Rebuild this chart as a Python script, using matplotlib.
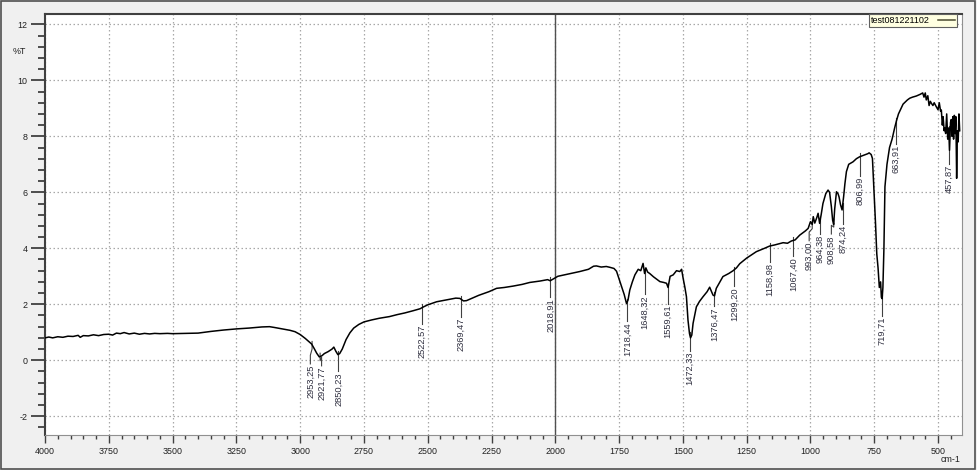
import numpy as np
import matplotlib
matplotlib.use('Agg')
import matplotlib.pyplot as plt
from matplotlib.patches import Rectangle

plt.rcParams['font.family'] = ['Liberation Sans', 'DejaVu Sans']
plt.rcParams['axes.unicode_minus'] = False

# spectrum (wavenumber cm-1, %T)
wavenumber = [4000, 3985, 3970, 3950, 3930, 3910, 3890, 3870, 3862, 3850, 3830, 3810, 3790, 3770,
              3750, 3735, 3720, 3705, 3690, 3670, 3650, 3630, 3610, 3590, 3570, 3550, 3520, 3500,
              3450, 3400, 3350, 3300, 3250, 3200, 3150, 3120, 3100, 3070, 3040, 3020, 3000, 2980,
              2965, 2955, 2945, 2935, 2925, 2915, 2905, 2890, 2875, 2868, 2860, 2852, 2845, 2835,
              2820, 2805, 2790, 2770, 2750, 2720, 2690, 2650, 2620, 2590, 2557, 2530, 2518, 2500,
              2465, 2420, 2390, 2374, 2360, 2348, 2330, 2300, 2260, 2230, 2200, 2165, 2130, 2100,
              2060, 2030, 2020, 2005, 1990, 1950, 1904, 1870, 1850, 1839, 1820, 1800, 1786, 1770,
              1760, 1750, 1740, 1730, 1721, 1715, 1708, 1698, 1688, 1675, 1665, 1656, 1650, 1645,
              1638, 1630, 1615, 1600, 1590, 1575, 1564, 1558, 1550, 1538, 1525, 1512, 1505, 1499,
              1492, 1486, 1480, 1474, 1470, 1465, 1460, 1447, 1435, 1421, 1405, 1395, 1382, 1376,
              1369, 1355, 1343, 1320, 1303, 1290, 1277, 1250, 1212, 1180, 1160, 1140, 1107, 1090,
              1075, 1060, 1042, 1020, 1009, 1000, 993, 989, 983, 975, 970, 964, 958, 951,
              940, 931, 925, 918, 913, 909, 905, 898, 892, 888, 882, 876, 870, 865,
              859, 850, 833, 820, 807, 790, 775, 770, 762, 757, 751, 745, 740, 735,
              730, 725, 722, 719, 716, 712, 708, 700, 690, 680, 670, 663, 655, 637,
              620, 611, 600, 585, 570, 560, 555, 550, 546, 540, 535, 530, 526, 520,
              515, 507, 500, 495, 490, 487, 483, 480, 476, 474, 470, 466, 462, 458,
              455, 451, 448, 445, 442, 439, 436, 433, 430, 427, 424, 421, 418, 415]
transmittance = [0.80, 0.83, 0.80, 0.84, 0.82, 0.86, 0.85, 0.89, 0.82, 0.88, 0.87, 0.91, 0.88, 0.92,
                 0.93, 0.90, 0.97, 0.95, 0.99, 0.94, 0.97, 0.93, 0.96, 0.94, 0.96, 0.95, 0.96, 0.95,
                 0.96, 0.97, 1.03, 1.08, 1.12, 1.15, 1.19, 1.20, 1.17, 1.12, 1.07, 1.02, 0.92, 0.78,
                 0.66, 0.58, 0.42, 0.25, 0.12, 0.16, 0.24, 0.31, 0.40, 0.47, 0.32, 0.20, 0.24, 0.40,
                 0.74, 0.98, 1.15, 1.28, 1.37, 1.44, 1.50, 1.56, 1.63, 1.69, 1.77, 1.84, 1.90, 1.98,
                 2.09, 2.17, 2.22, 2.21, 2.12, 2.13, 2.20, 2.32, 2.45, 2.57, 2.60, 2.65, 2.71, 2.78,
                 2.83, 2.88, 2.84, 2.92, 3.00, 3.08, 3.17, 3.25, 3.36, 3.37, 3.33, 3.35, 3.32, 3.28,
                 3.18, 2.90, 2.62, 2.35, 2.03, 2.15, 2.51, 2.80, 3.05, 3.25, 3.20, 3.46, 3.10, 3.30,
                 3.15, 3.10, 2.98, 2.88, 2.81, 2.78, 2.75, 2.60, 3.00, 3.05, 3.20, 3.17, 3.25, 2.93,
                 2.60, 2.27, 1.44, 0.95, 0.80, 0.90, 1.32, 1.91, 2.10, 2.27, 2.45, 2.61, 2.33, 2.30,
                 2.57, 2.80, 2.99, 3.10, 3.20, 3.30, 3.45, 3.65, 3.88, 4.00, 4.08, 4.12, 4.20, 4.18,
                 4.26, 4.30, 4.47, 4.62, 4.71, 4.95, 4.85, 5.13, 4.90, 5.10, 5.25, 4.89, 5.20, 5.60,
                 5.95, 6.08, 6.00, 5.49, 5.00, 4.85, 5.40, 6.02, 5.95, 5.84, 5.55, 5.37, 5.84, 6.30,
                 6.74, 7.00, 7.09, 7.20, 7.27, 7.33, 7.38, 7.41, 7.35, 7.21, 6.08, 4.90, 3.80, 3.30,
                 2.60, 2.80, 2.25, 2.20, 2.60, 4.00, 6.20, 7.00, 7.60, 7.90, 8.30, 8.55, 8.80, 9.15,
                 9.30, 9.36, 9.40, 9.44, 9.50, 9.55, 9.40, 9.55, 9.30, 9.45, 9.10, 9.25, 9.18, 9.10,
                 9.20, 9.06, 8.95, 9.20, 8.90, 8.94, 8.40, 8.70, 8.20, 8.30, 8.10, 8.80, 7.90, 8.30,
                 7.50, 8.50, 8.60, 8.00, 8.70, 7.90, 8.75, 8.10, 8.70, 6.50, 8.20, 7.80, 8.80, 8.20]

# picked peaks
peaks = [2953.25, 2921.77, 2850.23, 2522.57, 2369.47, 2018.91, 1718.44, 1648.32, 1559.61,
         1472.33, 1376.47, 1299.20, 1158.98, 1067.40, 993.00, 964.38, 908.58, 874.24,
         806.99, 719.71, 663.91, 457.87]

# label placement: x of the rotated text and its top end (%T)
label_x = list(peaks)
label_x[peaks.index(2953.25)] = 2960
label_x[peaks.index(2921.77)] = 2916
label_x[peaks.index(993.00)] = 1005
label_x[peaks.index(908.58)] = 918
label_tops = [-0.17, -0.24, -0.42, 1.26, 1.51, 2.23, 1.37, 2.33, 1.98, 0.30, 1.90, 2.62,
              3.48, 3.69, 4.23, 4.47, 4.47, 4.83, 6.55, 1.55, 7.69, 6.98]

W, H = 977, 470
fig = plt.figure(figsize=(W / 100, H / 100), dpi=100)
fig.patch.set_facecolor('#f0f0f0')
ax = fig.add_axes([45 / W, (H - 435) / H, 917 / W, 421 / H])
ax.set_facecolor('white')

line, = ax.plot(wavenumber, transmittance, color='black', lw=1.1, label='test081221102', zorder=3)

ax.set_xlim(4000, 406)
ax.set_ylim(-2.67, 12.37)
ax.set_xticks(np.arange(4000, 499, -250))
ax.set_xticks(np.arange(4000, 405, -50), minor=True)
ax.set_yticks(np.arange(-2, 13, 2))
ax.set_yticks(np.arange(-2.4, 12.4, 0.4), minor=True)
ax.grid(True, which='major', color='#a8a8a8', linestyle=(0, (1.2, 2)), lw=0.9, zorder=0)

ax.tick_params(axis='y', which='major', length=10, width=1.3, color='#404040', pad=2.4,
               labelsize=6.4, labelcolor='#202020')
ax.tick_params(axis='y', which='minor', length=5, width=1.3, color='#404040')
ax.tick_params(axis='x', which='major', length=6, width=1.0, color='#404040', pad=2.5,
               labelsize=6.4, labelcolor='#202020')
ax.tick_params(axis='x', which='minor', length=3, width=1.0, color='#404040')

for side in ['left', 'top']:
    ax.spines[side].set_color('#404040')
    ax.spines[side].set_linewidth(1.5)
for side in ['right', 'bottom']:
    ax.spines[side].set_color('#909090')
    ax.spines[side].set_linewidth(0.8)

# cursor line
ax.axvline(2000, color='#505050', lw=1.0, zorder=2)

# peak labels with leader lines
for p, lx, top in zip(peaks, label_x, label_tops):
    y_curve = np.interp(p, wavenumber[::-1], transmittance[::-1])
    if lx == p:
        ax.plot([p, p], [y_curve + 0.12, top + 0.04], color='#404040', lw=0.8, zorder=2)
    else:
        ax.plot([p, p, lx, lx], [y_curve + 0.12, y_curve - 0.15, top + 0.35, top + 0.04],
                color='#404040', lw=0.8, zorder=2)
    ax.text(lx, top, f'{p:.2f}'.replace('.', ','), rotation=90, ha='center', va='top',
            fontsize=6.7, color='#303040', zorder=4)

leg = ax.legend(handles=[line], loc='upper right', bbox_to_anchor=(0.9945, 1.0),
                borderaxespad=0, fontsize=6.5, fancybox=False, framealpha=1,
                facecolor='#ffffe1', edgecolor='#606060', borderpad=0.2,
                handlelength=1.9, handletextpad=0.9, markerfirst=False)
leg.get_frame().set_linewidth(0.8)
leg.get_lines()[0].set_color('#4a4a30')

fig.text(19.5 / W, 1 - 52 / H, '%T', ha='center', va='center', fontsize=6.4, color='#202020')
fig.text(951 / W, 1 - 460 / H, 'cm-1', ha='center', va='center', fontsize=6.4, color='#202020')

fig.patches.append(Rectangle((0.001, 0.002), 0.997, 0.995, transform=fig.transFigure,
                             fill=False, edgecolor='#505050', lw=1.2))

fig.savefig('out.png', dpi=100, facecolor=fig.get_facecolor())
